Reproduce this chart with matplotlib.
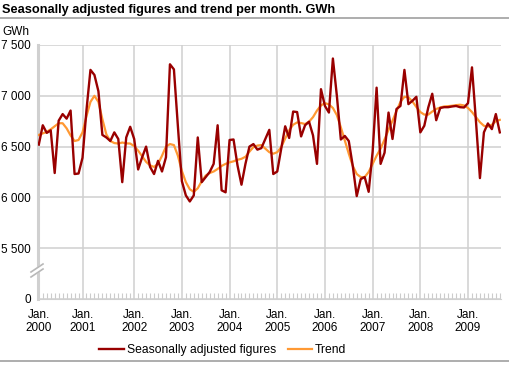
import numpy as np
import matplotlib
matplotlib.use("Agg")
import matplotlib.pyplot as plt
from matplotlib.lines import Line2D

plt.rcParams['font.family'] = ['Liberation Sans', 'DejaVu Sans']

# monthly values, Jan 2000 - Sep 2009 (GWh)
seasonal = [6520, 6710, 6635, 6660, 6240, 6755, 6820, 6775, 6855, 6230, 6235, 6390,
            6860, 7255, 7205, 7045, 6615, 6590, 6555, 6640, 6575, 6150, 6590, 6695,
            6575, 6275, 6395, 6500, 6300, 6230, 6360, 6255, 6395, 7310, 7260, 6700,
            6160, 6020, 5960, 6020, 6590, 6150, 6200, 6250, 6330, 6710, 6070, 6050,
            6565, 6570, 6315, 6125, 6330, 6500, 6525, 6470, 6485, 6575, 6665, 6230,
            6255, 6480, 6700, 6585, 6845, 6840, 6600, 6710, 6745, 6610, 6330, 7065,
            6900, 6835, 7367, 7000, 6570, 6605, 6555, 6310, 6013, 6180, 6200, 6055,
            6450, 7080, 6330, 6440, 6835, 6575, 6870, 6900, 7255, 6918, 6950, 6990,
            6640, 6705, 6885, 7020, 6760, 6880, 6888, 6888, 6895, 6900, 6888, 6885,
            6928, 7280, 6750, 6190, 6640, 6728, 6672, 6820, 6640]
trend = [6615, 6630, 6645, 6670, 6700, 6730, 6730, 6680, 6610, 6555, 6565, 6640,
         6800, 6940, 7000, 6940, 6770, 6620, 6555, 6535, 6530, 6540, 6532, 6530,
         6505, 6460, 6405, 6350, 6315, 6300, 6330, 6410, 6500, 6525, 6515, 6410,
         6260, 6150, 6080, 6055, 6090, 6160, 6215, 6240, 6255, 6280, 6310, 6330,
         6345, 6355, 6370, 6380, 6400, 6450, 6495, 6510, 6515, 6480, 6445, 6430,
         6445, 6495, 6580, 6660, 6715, 6738, 6732, 6722, 6745, 6790, 6855, 6905,
         6928, 6915, 6880, 6810, 6690, 6560, 6430, 6310, 6230, 6200, 6200, 6250,
         6330, 6410, 6480, 6570, 6665, 6755, 6850, 6940, 6990, 6985, 6945, 6890,
         6840, 6815, 6815, 6845, 6870, 6885, 6895, 6898, 6902, 6908, 6912, 6905,
         6880, 6840, 6790, 6740, 6705, 6697, 6715, 6750, 6763]

year_labels = ['Jan.\n2000', 'Jan.\n2001', 'Jan.\n2002', 'Jan.\n2003', 'Jan.\n2004',
               'Jan.\n2005', 'Jan.\n2006', 'Jan.\n2007', 'Jan.\n2008', 'Jan.\n2009']
year_pos = [0, 11, 24, 36, 48, 60, 72, 84, 96, 108]
y_ticks = [5000, 5500, 6000, 6500, 7000, 7500]
y_labels = ['0', '5 500', '6 000', '6 500', '7 000', '7 500']

W, H = 510, 369
fig = plt.figure(figsize=(W / 100, H / 100), dpi=100)
ax = fig.add_axes([38 / W, 1 - 299 / H, 463 / W, 254 / H])

months = np.arange(len(seasonal))
grid_col = '#d0d0d0'

ax.plot(months, trend, color='#ff9933', lw=1.6, zorder=3)
ax.plot(months, seasonal, color='#990000', lw=1.7, zorder=4)

ax.set_xlim(-0.2, 116.3)
ax.set_ylim(5000, 7500)
ax.set_yticks(y_ticks)
ax.set_yticklabels(y_labels)
ax.set_xticks(year_pos)
ax.set_xticklabels(year_labels, linespacing=1.1)
ax.set_xticks(months, minor=True)
ax.grid(True, which='major', color=grid_col, lw=1.1)
ax.set_axisbelow(True)

ax.tick_params(axis='y', length=0, pad=5, labelsize=8.5, colors='#000000')
ax.tick_params(axis='x', which='major', length=0, pad=7, labelsize=8.5)
ax.tick_params(axis='x', which='minor', direction='in', length=4, width=0.8,
               color='#cccccc')

for s in ['top', 'right']:
    ax.spines[s].set_visible(False)
ax.spines['bottom'].set_color(grid_col)
ax.spines['left'].set_color('#d0d0d0')
ax.spines['left'].set_linewidth(2.2)

# axis break mark
def px(x, y):
    return (x - 38) / 463, (299 - y) / 254

bx = [px(31, 272)[0], px(43, 264)[0], px(43, 269)[0], px(31, 277)[0]]
by = [px(31, 272)[1], px(43, 264)[1], px(43, 269)[1], px(31, 277)[1]]
ax.fill(bx, by, color='white', transform=ax.transAxes, clip_on=False, zorder=5)
for (x0, y0, x1, y1) in [(31, 272, 43, 264), (31, 277, 43, 269)]:
    a, b = px(x0, y0)
    c, d = px(x1, y1)
    ax.plot([a, c], [b, d], color='#b8b8b8', lw=1.2, transform=ax.transAxes,
            clip_on=False, zorder=6)

fig.text(2 / W, 1 - 10 / H, 'Seasonally adjusted figures and trend per month. GWh',
         fontsize=9.2, fontweight='bold', va='center', ha='left')
fig.add_artist(Line2D([0, 1], [1 - 18 / H, 1 - 18 / H], color='#a0a0a0', lw=1.2))
fig.add_artist(Line2D([0, 1], [1 - 361 / H, 1 - 361 / H], color='#a0a0a0', lw=1.2))
fig.text(2 / W, 1 - 32 / H, 'GWh', fontsize=8.5, va='center', ha='left')

handles = [Line2D([0], [0], color='#990000', lw=1.7),
           Line2D([0], [0], color='#ff9933', lw=1.6)]
fig.legend(handles, ['Seasonally adjusted figures', 'Trend'], loc='center',
           bbox_to_anchor=(223 / W, 1 - 350 / H), ncol=2, frameon=False,
           fontsize=8.7, handlelength=2.0, handletextpad=0.25, columnspacing=1.0)

fig.savefig('out.png', dpi=100)
